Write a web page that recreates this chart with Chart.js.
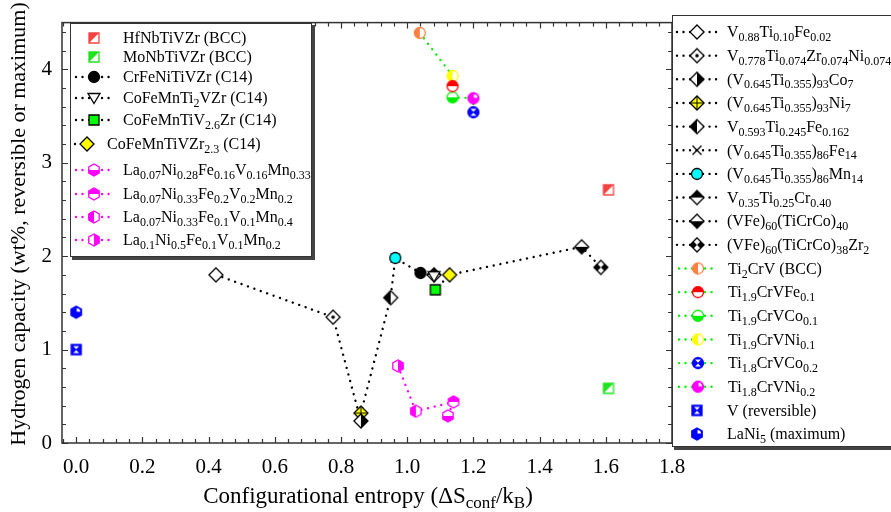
<!DOCTYPE html>
<html>
<head>
<meta charset="utf-8">
<script src="https://cdn.jsdelivr.net/npm/chart.js@4.4.0/dist/chart.umd.min.js"></script>
<style>
  html, body { margin: 0; padding: 0; background: #fff; }
  #wrap { width: 891px; height: 512px; position: relative; }
</style>
</head>
<body>
<div id="wrap"><canvas id="chart"></canvas></div>
<script>
// ---- data (x = configurational entropy, y = hydrogen capacity wt%) ----
const bccNames = ['HfNbTiVZr (BCC)', 'MoNbTiVZr (BCC)'];
const bccX = [1.608, 1.608];
const bccY = [2.71, 0.585];

const c14Names = ['CrFeNiTiVZr (C14)', 'CoFeMnTi_{2}VZr (C14)', 'CoFeMnTiV_{2.6}Zr (C14)', 'CoFeMnTiVZr_{2.3} (C14)'];
const c14X = [1.040, 1.081, 1.085, 1.128];
const c14Y = [1.82, 1.785, 1.64, 1.80];

const laNames = ['La_{0.07}Ni_{0.28}Fe_{0.16}V_{0.16}Mn_{0.33}', 'La_{0.07}Ni_{0.33}Fe_{0.2}V_{0.2}Mn_{0.2}',
                 'La_{0.07}Ni_{0.33}Fe_{0.1}V_{0.1}Mn_{0.4}', 'La_{0.1}Ni_{0.5}Fe_{0.1}V_{0.1}Mn_{0.2}'];
const laX = [1.123, 1.140, 1.026, 0.972];
const laY = [0.29, 0.44, 0.34, 0.825];

const vtiNames = ['V_{0.88}Ti_{0.10}Fe_{0.02}', 'V_{0.778}Ti_{0.074}Zr_{0.074}Ni_{0.074}', '(V_{0.645}Ti_{0.355})_{93}Co_{7}',
                  '(V_{0.645}Ti_{0.355})_{93}Ni_{7}', 'V_{0.593}Ti_{0.245}Fe_{0.162}', '(V_{0.645}Ti_{0.355})_{86}Fe_{14}',
                  '(V_{0.645}Ti_{0.355})_{86}Mn_{14}', 'V_{0.35}Ti_{0.25}Cr_{0.40}', '(VFe)_{60}(TiCrCo)_{40}',
                  '(VFe)_{60}(TiCrCo)_{38}Zr_{2}'];
const vtiX = [0.422, 0.776, 0.860, 0.860, 0.950, 0.964, 0.964, 1.081, 1.527, 1.585];
const vtiY = [1.80, 1.347, 0.236, 0.32, 1.556, 1.98, 1.98, 1.80, 2.10, 1.88];

const tcvNames = ['Ti_{2}CrV (BCC)', 'Ti_{1.9}CrVFe_{0.1}', 'Ti_{1.9}CrVCo_{0.1}', 'Ti_{1.9}CrVNi_{0.1}',
                  'Ti_{1.8}CrVCo_{0.2}', 'Ti_{1.8}CrVNi_{0.2}'];
const tcvX = [1.038, 1.137, 1.137, 1.137, 1.200, 1.200];
const tcvY = [4.39, 3.82, 3.70, 3.93, 3.54, 3.69];

const refNames = ['V (reversible)', 'LaNi_{5} (maximum)'];
const refX = [0.0, 0.0];
const refY = [1.00, 1.40];

// ---- marker styles ----
const bccMarks = [
    { shape: 'square', color: '#f44343', fill: 'diag' },
    { shape: 'square', color: '#1fe41f', fill: 'diag' }
];
const c14Marks = [
    { shape: 'circle', color: '#000', fill: 'full' },
    { shape: 'tridown', color: '#000', fill: 'none' },
    { shape: 'square', color: '#00ff00', fill: 'full', border: '#000' },
    { shape: 'diamond', color: '#ffff00', fill: 'full', border: '#000' }
];
const laMarks = [
    { shape: 'hexagon', color: '#ff00ff', fill: 'bottom' },
    { shape: 'hexagon', color: '#ff00ff', fill: 'top' },
    { shape: 'hexagon', color: '#ff00ff', fill: 'left' },
    { shape: 'hexagon', color: '#ff00ff', fill: 'right' }
];
const vtiMarks = [
    { shape: 'diamond', color: '#000', fill: 'none' },
    { shape: 'diamond', color: '#000', fill: 'none', extra: 'dot' },
    { shape: 'diamond', color: '#000', fill: 'right' },
    { shape: 'diamond', color: '#ffff00', fill: 'full', border: '#000', extra: 'plus' },
    { shape: 'diamond', color: '#000', fill: 'left' },
    { shape: 'cross', color: '#000' },
    { shape: 'circle', color: '#00ffff', fill: 'full', border: '#000' },
    { shape: 'diamond', color: '#000', fill: 'top' },
    { shape: 'diamond', color: '#000', fill: 'bottom' },
    { shape: 'diamond', color: '#000', fill: 'bowtie' }
];
const tcvMarks = [
    { shape: 'circle', color: '#ff8040', fill: 'left' },
    { shape: 'circle', color: '#ff0000', fill: 'top' },
    { shape: 'circle', color: '#00ee00', fill: 'bottom' },
    { shape: 'circle', color: '#ffff00', fill: 'left' },
    { shape: 'circle', color: '#0000ff', fill: 'full', extra: 'hourglass' },
    { shape: 'circle', color: '#ff00ff', fill: 'full', extra: 'wedge' }
];
const refMarks = [
    { shape: 'square', color: '#0000ff', fill: 'full', extra: 'hourglass' },
    { shape: 'hexagon', color: '#0000ff', fill: 'full', extra: 'wedge' }
];

const FONT = "'Liberation Serif', 'Times New Roman', serif";
const SUB = 0.74;

function shapePath(shape) {
    const p = new Path2D();
    if (shape === 'circle') {
        p.arc(0, 0, 5.5, 0, Math.PI * 2);
    } else if (shape === 'square') {
        p.rect(-5, -5, 10, 10);
    } else if (shape === 'diamond') {
        p.moveTo(0, -7); p.lineTo(7, 0); p.lineTo(0, 7); p.lineTo(-7, 0); p.closePath();
    } else if (shape === 'tridown') {
        p.moveTo(-6, -4.5); p.lineTo(6, -4.5); p.lineTo(0, 5.5); p.closePath();
    } else if (shape === 'hexagon') {
        for (let i = 0; i < 6; i++) {
            const a = Math.PI / 6 + i * Math.PI / 3;
            const px = 6 * Math.cos(a), py = 6 * Math.sin(a);
            if (i === 0) p.moveTo(px, py); else p.lineTo(px, py);
        }
        p.closePath();
    }
    return p;
}

function makeMarker(m) {
    const S = 20;
    const cv = document.createElement('canvas');
    cv.width = S; cv.height = S;
    const ctx = cv.getContext('2d');
    ctx.translate(S / 2, S / 2);
    if (m.shape === 'cross') {
        ctx.strokeStyle = m.color; ctx.lineWidth = 1.3;
        ctx.beginPath();
        ctx.moveTo(-4.5, -4.5); ctx.lineTo(4.5, 4.5);
        ctx.moveTo(4.5, -4.5); ctx.lineTo(-4.5, 4.5);
        ctx.stroke();
        return cv;
    }
    const p = shapePath(m.shape);
    ctx.fillStyle = '#fff';
    ctx.fill(p);
    ctx.save();
    ctx.clip(p);
    ctx.fillStyle = m.color;
    ctx.beginPath();
    if (m.fill === 'full') ctx.rect(-10, -10, 20, 20);
    else if (m.fill === 'left') ctx.rect(-10, -10, 10, 20);
    else if (m.fill === 'right') ctx.rect(0, -10, 10, 20);
    else if (m.fill === 'top') ctx.rect(-10, -10, 20, 10);
    else if (m.fill === 'bottom') ctx.rect(-10, 0, 20, 10);
    else if (m.fill === 'diag') { ctx.moveTo(-10, -10); ctx.lineTo(10, -10); ctx.lineTo(-10, 10); ctx.closePath(); }
    else if (m.fill === 'bowtie') {
        ctx.moveTo(0, 0); ctx.lineTo(-10, -10); ctx.lineTo(-10, 10); ctx.closePath();
        ctx.moveTo(0, 0); ctx.lineTo(10, -10); ctx.lineTo(10, 10); ctx.closePath();
    }
    ctx.fill();
    ctx.restore();
    if (m.extra === 'hourglass') {
        ctx.fillStyle = '#fff';
        ctx.beginPath();
        ctx.moveTo(-3, -3.6); ctx.lineTo(3, -3.6); ctx.lineTo(0, -0.6); ctx.closePath();
        ctx.moveTo(-3, 3.6); ctx.lineTo(3, 3.6); ctx.lineTo(0, 0.6); ctx.closePath();
        ctx.fill();
    } else if (m.extra === 'wedge') {
        ctx.fillStyle = '#fff';
        ctx.beginPath();
        ctx.moveTo(0.5, -0.5); ctx.arc(0.5, -0.5, 3.5, -Math.PI / 2, 0); ctx.closePath();
        ctx.fill();
    } else if (m.extra === 'dot') {
        ctx.fillStyle = '#000';
        ctx.beginPath(); ctx.arc(0, 0, 1.8, 0, Math.PI * 2); ctx.fill();
    } else if (m.extra === 'plus') {
        ctx.strokeStyle = '#000'; ctx.lineWidth = 1;
        ctx.beginPath();
        ctx.moveTo(-7, 0); ctx.lineTo(7, 0); ctx.moveTo(0, -7); ctx.lineTo(0, 7);
        ctx.stroke();
    }
    ctx.strokeStyle = m.border || m.color;
    ctx.lineWidth = 1.3;
    ctx.stroke(p);
    return cv;
}

// ---- build series ----
const groups = [
    { names: bccNames, xs: bccX, ys: bccY, marks: bccMarks, line: null },
    { names: c14Names, xs: c14X, ys: c14Y, marks: c14Marks, line: '#000' },
    { names: laNames, xs: laX, ys: laY, marks: laMarks, line: '#ff00ff' },
    { names: vtiNames, xs: vtiX, ys: vtiY, marks: vtiMarks, line: '#000' },
    { names: tcvNames, xs: tcvX, ys: tcvY, marks: tcvMarks, line: '#00ee00' },
    { names: refNames, xs: refX, ys: refY, marks: refMarks, line: null }
];
groups.forEach(g => { g.imgs = g.marks.map(makeMarker); });

const datasets = [];
groups.forEach(g => {
    g.names.forEach((name, i) => {
        datasets.push({
            label: name,
            data: [{ x: g.xs[i], y: g.ys[i] }],
            pointStyle: g.imgs[i],
            pointRadius: 7,
            showLine: false,
            // crosses sit underneath the other markers
            order: g.marks[i].shape === 'cross' ? 1 : 0
        });
    });
});

function pts(xs, ys) { return xs.map((x, i) => ({ x: x, y: ys[i] })); }
const dotted = { showLine: true, pointRadius: 0, borderWidth: 2.4, borderDash: [0.01, 6.8], borderCapStyle: 'round', fill: false, order: 10 };

// black path runs through the C14 and V-Ti points in order of entropy
const blackPath = pts(c14X.concat(vtiX), c14Y.concat(vtiY)).sort((a, b) => a.x - b.x);
// magenta path runs from the last La entry to the first
const laPath = pts(laX, laY).reverse();
// green path runs down in capacity
const tcvPath = pts(tcvX, tcvY).sort((a, b) => b.y - a.y);
datasets.push(Object.assign({ label: 'path1', data: blackPath, borderColor: '#000' }, dotted));
datasets.push(Object.assign({ label: 'path2', data: laPath, borderColor: '#ff00ff' }, dotted));
datasets.push(Object.assign({ label: 'path3', data: tcvPath, borderColor: '#00ee00' }, dotted));

// ---- rich text with subscripts ----
function richParts(str) {
    const parts = [];
    const re = /_\{([^}]*)\}/g;
    let last = 0, m;
    while ((m = re.exec(str)) !== null) {
        if (m.index > last) parts.push({ t: str.slice(last, m.index), sub: false });
        parts.push({ t: m[1], sub: true });
        last = re.lastIndex;
    }
    if (last < str.length) parts.push({ t: str.slice(last), sub: false });
    return parts;
}
function richWidth(ctx, str, size) {
    let w = 0;
    richParts(str).forEach(p => {
        ctx.font = (p.sub ? Math.round(size * SUB) : size) + 'px ' + FONT;
        w += ctx.measureText(p.t).width;
    });
    return w;
}
function drawRich(ctx, str, x, yMid, size) {
    const base = yMid + size * 0.33;
    ctx.textAlign = 'left';
    ctx.textBaseline = 'alphabetic';
    ctx.fillStyle = '#000';
    richParts(str).forEach(p => {
        const s = p.sub ? Math.round(size * SUB) : size;
        ctx.font = s + 'px ' + FONT;
        ctx.fillText(p.t, x, p.sub ? base + size * 0.24 : base);
        x += ctx.measureText(p.t).width;
    });
}

function dottedSeg(ctx, color, x0, x1, y) {
    ctx.save();
    ctx.strokeStyle = color; ctx.lineWidth = 2.4; ctx.lineCap = 'round';
    ctx.setLineDash([0.01, 6.5]);
    ctx.beginPath(); ctx.moveTo(x0, y); ctx.lineTo(x1, y); ctx.stroke();
    ctx.restore();
}

function legendItem(ctx, g, i, lx0, lx1, mx, tx, y) {
    if (g.line) dottedSeg(ctx, g.line, lx0, lx1, y);
    const img = g.imgs[i];
    ctx.drawImage(img, mx - img.width / 2, y - img.height / 2);
    drawRich(ctx, g.names[i], tx, y, 16);
}

const decor = {
    id: 'decor',
    afterDraw(chart) {
        const ctx = chart.ctx;
        const a = chart.chartArea;
        const sx = chart.scales.x, sy = chart.scales.y;
        ctx.save();

        // frame
        ctx.strokeStyle = '#333';
        ctx.lineWidth = 1.5;
        ctx.strokeRect(a.left, a.top, a.right - a.left, a.bottom - a.top);

        // ticks on all four sides, pointing inward
        ctx.lineWidth = 1.2;
        ctx.beginPath();
        for (let k = -1; k <= 45; k++) {
            const v = k * 0.04;
            if (v < sx.min || v > sx.max + 1e-9) continue;
            const px = Math.round(sx.getPixelForValue(v)) + 0.5;
            const len = (k % 5 === 0) ? 6 : 4;
            ctx.moveTo(px, a.bottom); ctx.lineTo(px, a.bottom - len);
            ctx.moveTo(px, a.top); ctx.lineTo(px, a.top + len);
        }
        for (let k = 0; k <= 22; k++) {
            const v = k * 0.2;
            if (v > sy.max + 1e-9) continue;
            const py = Math.round(sy.getPixelForValue(v)) + 0.5;
            const len = (k % 5 === 0) ? 6 : 4;
            ctx.moveTo(a.left, py); ctx.lineTo(a.left + len, py);
            ctx.moveTo(a.right, py); ctx.lineTo(a.right - len, py);
        }
        ctx.stroke();

        // axis titles
        const xt = 'Configurational entropy (\u0394S_{conf}/k_{B})';
        const xw = richWidth(ctx, xt, 23);
        drawRich(ctx, xt, (a.left + a.right) / 2 + 1 - xw / 2, 495, 23);
        ctx.save();
        ctx.translate(19, 224);
        ctx.rotate(-Math.PI / 2);
        ctx.font = '22px ' + FONT;
        ctx.fillStyle = '#000';
        ctx.textAlign = 'center';
        ctx.textBaseline = 'middle';
        ctx.fillText('Hydrogen capacity (wt%, reversible or maximum)', 0, 0);
        ctx.restore();

        // left legend box
        ctx.fillStyle = '#444';
        ctx.fillRect(72, 25, 243, 235);
        ctx.fillStyle = '#fff';
        ctx.fillRect(70, 23, 242, 234);
        ctx.strokeStyle = '#333'; ctx.lineWidth = 1;
        ctx.strokeRect(70.5, 23.5, 241, 233);
        const leftRows = [38, 57, 77, 98, 120, 144, 170, 194, 217, 240];
        const leftItems = [[0, 0], [0, 1], [1, 0], [1, 1], [1, 2], [1, 3], [2, 0], [2, 1], [2, 2], [2, 3]];
        leftItems.forEach(([gi, i], r) => {
            if (gi === 1 && i === 3) legendItem(ctx, groups[gi], i, 75, 78, 87, 107, leftRows[r]);
            else legendItem(ctx, groups[gi], i, 76, 113, 94, 123, leftRows[r]);
        });

        // right legend box
        ctx.fillStyle = '#444';
        ctx.fillRect(674, 17, 230, 433);
        ctx.fillStyle = '#fff';
        ctx.fillRect(672, 15, 230, 432);
        ctx.strokeStyle = '#333'; ctx.lineWidth = 1;
        ctx.strokeRect(672.5, 15.5, 230, 431);
        let r = 0;
        [3, 4, 5].forEach(gi => {
            groups[gi].names.forEach((n, i) => {
                const y = 32 + 23.65 * r;
                if (gi === 4) legendItem(ctx, groups[gi], i, 679, 718, 698, 728, y);
                else legendItem(ctx, groups[gi], i, 677, 718, 697, 727, y);
                r++;
            });
        });
        ctx.restore();
    }
};

new Chart(document.getElementById('chart'), {
    type: 'scatter',
    data: { datasets: datasets },
    options: {
        responsive: true,
        maintainAspectRatio: false,
        animation: false,
        events: [],
        layout: { padding: { left: 0, right: 219, top: 16.5, bottom: 0 } },
        plugins: {
            legend: { display: false },
            tooltip: { enabled: false }
        },
        scales: {
            x: {
                type: 'linear',
                min: -0.043,
                max: 1.8,
                grid: { display: false, drawTicks: false },
                border: { display: false },
                ticks: {
                    stepSize: 0.2,
                    includeBounds: false,
                    padding: 12,
                    color: '#000',
                    font: { family: FONT, size: 21 },
                    callback: v => v.toFixed(1)
                },
                afterFit: s => { s.height = 69; }
            },
            y: {
                type: 'linear',
                min: 0,
                max: 4.5,
                grid: { display: false, drawTicks: false },
                border: { display: false },
                ticks: {
                    stepSize: 1,
                    includeBounds: false,
                    padding: 10,
                    color: '#000',
                    font: { family: FONT, size: 21 },
                    callback: v => String(v)
                },
                afterFit: s => { s.width = 62; }
            }
        }
    },
    plugins: [decor]
});
</script>
</body>
</html>
